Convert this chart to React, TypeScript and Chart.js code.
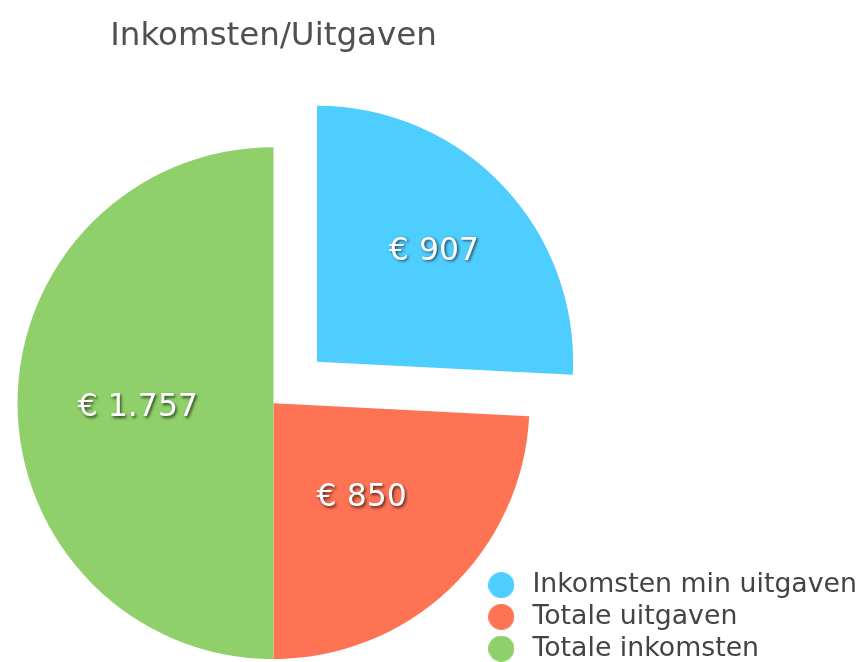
import React, { useEffect, useRef } from "react";
import { Chart, registerables } from "chart.js";

Chart.register(...registerables);

// ---- data ----
const categories = ["Inkomsten min uitgaven", "Totale uitgaven", "Totale inkomsten"];
const values = [907, 850, 1757];
const titleText = "Inkomsten/Uitgaven";

// ---- styles ----
const sliceColors = ["#4ECDFF", "#FF7355", "#8FD06A"];
// Chart.js translates an arc by offset/4 px
const sliceOffsets = [240, 0, 0];
const labelRadiusFactor = [0.63, 0.5, 0.53];
const labelNudgeY = [1, 2, 5];
const FONT = "'DejaVu Sans', Verdana, sans-serif";

const formatEuro = (v: number) =>
  "€ " + String(v).replace(/\B(?=(\d{3})+(?!\d))/g, ".");

const makeDot = (color: string, r: number) => {
  const c = document.createElement("canvas");
  c.width = r * 2;
  c.height = r * 2;
  const g = c.getContext("2d")!;
  g.fillStyle = color;
  g.beginPath();
  g.arc(r, r, r, 0, Math.PI * 2);
  g.fill();
  return c;
};

const sliceLabelPlugin = {
  id: "sliceLabels",
  afterDatasetsDraw(chart: any) {
    const ctx = chart.ctx as CanvasRenderingContext2D;
    const meta = chart.getDatasetMeta(0);
    const data = chart.data.datasets[0].data as number[];
    ctx.save();
    ctx.font = `31.5px ${FONT}`;
    ctx.textAlign = "center";
    ctx.textBaseline = "middle";
    ctx.fillStyle = "#ffffff";
    ctx.shadowColor = "rgba(0,0,0,0.65)";
    ctx.shadowBlur = 3;
    ctx.shadowOffsetX = 1.5;
    ctx.shadowOffsetY = 1.5;
    meta.data.forEach((arc: any, i: number) => {
      const p = arc.getProps(["x", "y", "startAngle", "endAngle", "outerRadius"], true);
      const mid = (p.startAngle + p.endAngle) / 2;
      const off = (arc.options.offset || 0) / 4;
      const d = off + labelRadiusFactor[i] * p.outerRadius;
      ctx.fillText(
        formatEuro(data[i]),
        p.x + Math.cos(mid) * d,
        p.y + Math.sin(mid) * d + labelNudgeY[i]
      );
    });
    ctx.restore();
  },
};

export default function App() {
  const canvasRef = useRef<HTMLCanvasElement | null>(null);

  useEffect(() => {
    if (!canvasRef.current) return;
    const dots = sliceColors.map((c) => makeDot(c, 13));
    const baseGenerate = (Chart as any).overrides.pie.plugins.legend.labels.generateLabels;
    const chart = new Chart(canvasRef.current, {
      type: "pie",
      data: {
        labels: categories,
        datasets: [
          {
            data: values,
            backgroundColor: sliceColors,
            hoverBackgroundColor: sliceColors,
            borderWidth: 0,
            offset: sliceOffsets,
            radius: 256,
            clip: false,
          } as any,
        ],
      },
      options: {
        animation: false,
        responsive: false,
        devicePixelRatio: 1,
        layout: { padding: { left: 68.5, right: 0, top: 0, bottom: 0 } },
        plugins: {
          title: {
            display: true,
            text: titleText,
            fullSize: false,
            color: "#505050",
            font: { family: FONT, size: 32.5, weight: "normal" },
            padding: { top: 17, bottom: 83.25 },
          },
          legend: {
            position: "right",
            align: "end",
            labels: {
              usePointStyle: true,
              pointStyleWidth: 35.5,
              boxHeight: 18.5,
              padding: 5,
              color: "#444444",
              font: { family: FONT, size: 26.75 },
              generateLabels: (ch: any) =>
                baseGenerate(ch).map((item: any, i: number) => ({
                  ...item,
                  pointStyle: dots[i],
                })),
            },
          },
          tooltip: { enabled: false },
        },
      } as any,
      plugins: [sliceLabelPlugin],
    });
    return () => chart.destroy();
  }, []);

  return (
    <div
      style={{
        position: "absolute",
        left: 0,
        top: 0,
        width: 861,
        height: 662,
        overflow: "hidden",
        background: "#fff",
      }}
    >
      <canvas ref={canvasRef} width={867} height={667} style={{ display: "block" }} />
    </div>
  );
}
